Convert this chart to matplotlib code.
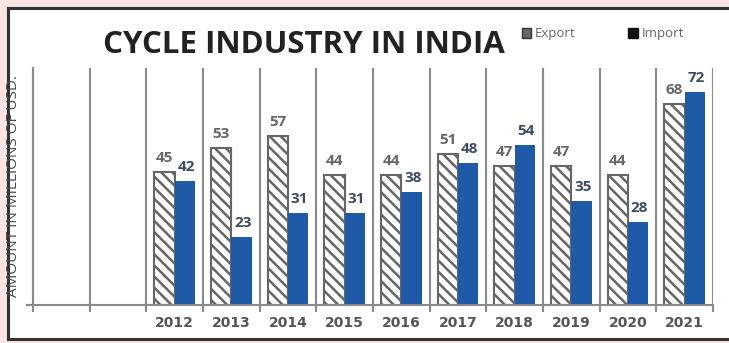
import matplotlib.pyplot as plt
import matplotlib.patches as mpatches
import numpy as np

years = ["2012", "2013", "2014", "2015", "2016", "2017", "2018", "2019", "2020", "2021"]
export = [45, 53, 57, 44, 44, 51, 47, 47, 44, 68]
imports = [42, 23, 31, 31, 38, 48, 54, 35, 28, 72]
n_empty = 2  # two empty slots before 2012

plt.rcParams['font.family'] = ['Open Sans', 'DejaVu Sans']
plt.rcParams['hatch.color'] = '#555555'
plt.rcParams['hatch.linewidth'] = 1.8

fig = plt.figure(figsize=(7.29, 3.43), dpi=100, facecolor='#fce4e4')

# white panel with dark border on top, left, bottom
panel = mpatches.Rectangle((8/729, 4/343), 1.0, 331/343, transform=fig.transFigure,
                           facecolor='white', edgecolor='none', zorder=-2)
fig.add_artist(panel)
for xs, ys in [([8/729, 1], [335/343, 335/343]), ([8/729, 8/729], [4/343, 335/343]),
               ([8/729, 1], [4/343, 4/343])]:
    fig.add_artist(plt.Line2D(xs, ys, transform=fig.transFigure, color='#333333', lw=2.2, zorder=-1))

ax = fig.add_axes([33/729, 38/343, 680/729, 237/343])
ax.set_facecolor('none')
ax.set_zorder(2)

x = np.arange(len(years)) + n_empty
w = 0.36
ax.bar(x - w/2, export, w, facecolor='white', edgecolor='#666666', hatch='\\\\\\', lw=1.5)
ax.bar(x + w/2, imports, w, color='#1f5aa8')

for xi, e, im in zip(x, export, imports):
    ax.annotate(str(e), (xi - w/2, e), xytext=(0, 5), textcoords='offset points',
                ha='center', va='bottom', fontsize=11, fontweight='bold', color='#666666')
    ax.annotate(str(im), (xi + w/2, im), xytext=(1, 5), textcoords='offset points',
                ha='center', va='bottom', fontsize=11, fontweight='bold', color='#3d4c66')

ax.set_xlim(-0.5, len(years) + n_empty - 0.5)
ax.set_ylim(0, 80)
for b in np.arange(0.5, len(years) + n_empty, 1):
    ax.axvline(b, ymin=0, ymax=1, color='#8a8a8a', lw=1.5)

ax.set_xticks(np.arange(-0.5, len(years) + n_empty, 1))
ax.set_xticklabels([])
ax.tick_params(axis='x', which='major', length=5, width=1.5, color='#8a8a8a')
ax.set_xticks(x, minor=True)
ax.set_xticklabels(years, minor=True, fontsize=10, fontweight='bold', color='#555555',
                   family='DejaVu Sans')
ax.tick_params(axis='x', which='minor', length=0, pad=8)
ax.set_yticks([])

for s in ['top', 'right']:
    ax.spines[s].set_visible(False)
ax.spines['left'].set_color('#8a8a8a')
ax.spines['left'].set_linewidth(1.5)
ax.spines['bottom'].set_color('#8a8a8a')
ax.spines['bottom'].set_linewidth(1.5)
ax.spines['bottom'].set_bounds(-0.6, len(years) + n_empty - 0.5)

ax.set_ylabel("AMOUNT IN MILLIONS OF USD.", fontsize=11, color='#4a4a4a')
ax.yaxis.set_label_coords(-0.017, 0.5)

fig.text(304/729, 1 - 45/343, "CYCLE INDUSTRY IN INDIA", ha='center', va='center',
         fontsize=22.5, fontweight='bold', color='#222222')

handles = [mpatches.Patch(facecolor='#666666', edgecolor='#333333', label='Export'),
           mpatches.Patch(facecolor='#111111', edgecolor='#111111', label='Import')]
fig.legend(handles=handles, loc='center left', bbox_to_anchor=(510/729, 1 - 34/343),
           ncol=2, frameon=False, fontsize=9.5, handlelength=0.7, handleheight=0.7,
           handletextpad=0.3, columnspacing=4.0, labelcolor='#666666')

fig.savefig('out.png', dpi=100, facecolor=fig.get_facecolor())
